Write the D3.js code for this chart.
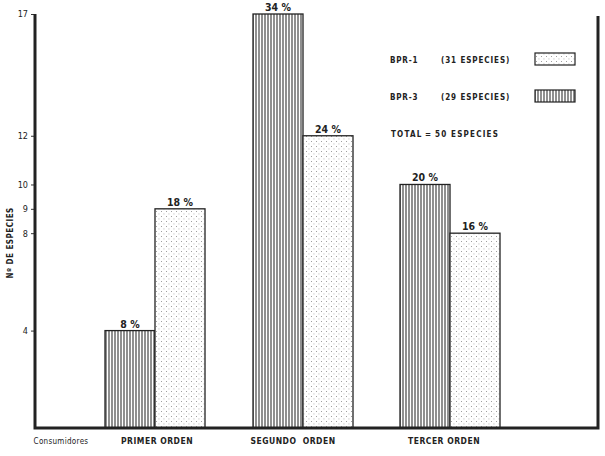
<!DOCTYPE html>
<html>
<head>
<meta charset="utf-8">
<script src="https://cdn.jsdelivr.net/npm/d3@7"></script>
<style>
  body { margin: 0; background: #fff; }
  text { font-family: "DejaVu Sans Condensed", "Liberation Sans Narrow", sans-serif; fill: #222; }
</style>
</head>
<body>
<svg id="chart" width="605" height="456"></svg>
<script>
const categories = ['PRIMER ORDEN', 'SEGUNDO ORDEN', 'TERCER ORDEN']
const series = ['BPR-3', 'BPR-1']
const bpr3Values = [4, 17, 10]
const bpr1Values = [9, 12, 8]
const bpr3Labels = ['8 %', '34 %', '20 %']
const bpr1Labels = ['18 %', '24 %', '16 %']
const yTicks = [4, 8, 9, 10, 12, 17]
const legendRows = [
  { name: 'BPR-1', note: '(31 ESPECIES)', pattern: 'dots' },
  { name: 'BPR-3', note: '(29 ESPECIES)', pattern: 'lines' }
]
const totalParts = ['TOTAL', '=', '50 ESPECIES']

const svg = d3.select('#chart')
const mLeft = 35
const mRight = 598
const mTop = 14
const mBottom = 428

// patterns
const defs = svg.append('defs')
const pl = defs.append('pattern').attr('id', 'lines')
  .attr('patternUnits', 'userSpaceOnUse').attr('width', 3).attr('height', 10)
pl.append('rect').attr('width', 3).attr('height', 10).attr('fill', '#fff')
pl.append('line').attr('x1', 1).attr('x2', 1).attr('y1', 0).attr('y2', 10)
  .attr('stroke', '#333').attr('stroke-width', 1.1)

const pd = defs.append('pattern').attr('id', 'dots')
  .attr('patternUnits', 'userSpaceOnUse').attr('width', 5).attr('height', 5)
pd.append('rect').attr('width', 5).attr('height', 5).attr('fill', '#fff')
pd.append('rect').attr('x', 1).attr('y', 1).attr('width', 0.9).attr('height', 0.9).attr('fill', '#888')
pd.append('rect').attr('x', 3.5).attr('y', 3.5).attr('width', 0.9).attr('height', 0.9).attr('fill', '#aaa')

const y = d3.scaleLinear().domain([0, 17]).range([mBottom, mTop])
const groupCenters = [155, 303, 450]
const barW = 50

// bars
const bars = []
categories.forEach((c, i) => {
  bars.push({ c, i, s: 0, v: bpr3Values[i], label: bpr3Labels[i], fill: 'url(#lines)' })
  bars.push({ c, i, s: 1, v: bpr1Values[i], label: bpr1Labels[i], fill: 'url(#dots)' })
})
const barX = d => groupCenters[d.i] + (d.s === 0 ? -barW : 0)

svg.append('g').selectAll('rect').data(bars).enter().append('rect')
  .attr('x', barX)
  .attr('y', d => y(d.v))
  .attr('width', barW)
  .attr('height', d => y(0) - y(d.v))
  .attr('fill', d => d.fill)
  .attr('stroke', '#222')
  .attr('stroke-width', 1.3)

svg.append('g').selectAll('text').data(bars).enter().append('text')
  .attr('x', d => barX(d) + barW / 2)
  .attr('y', d => y(d.v) - 3)
  .attr('text-anchor', 'middle')
  .attr('font-size', 10.5)
  .attr('font-weight', 600)
  .text(d => d.label)

// axes frame
const yAxis = d3.axisLeft(y).tickValues(yTicks).tickSize(4).tickPadding(3)
const ga = svg.append('g').attr('transform', `translate(${mLeft},0)`).call(yAxis)
ga.select('.domain').remove()
ga.selectAll('text').attr('font-size', 9).style('font-family', '"DejaVu Sans Condensed", sans-serif').attr('fill', '#222')
ga.selectAll('line').attr('stroke', '#333')

svg.append('path')
  .attr('d', `M${mLeft},${mTop}V${mBottom}H${mRight}V${mTop + 2}`)
  .attr('fill', 'none').attr('stroke', '#222').attr('stroke-width', 3)

// y label
svg.append('text')
  .attr('transform', `translate(13,${y(7.6)}) rotate(-90)`)
  .attr('text-anchor', 'middle')
  .attr('font-size', 8).attr('font-weight', 'bold').attr('letter-spacing', 0.5)
  .text('Nº DE ESPECIES')

// x labels
svg.append('text').attr('x', 61).attr('y', 444).attr('text-anchor', 'middle')
  .attr('font-size', 8).attr('letter-spacing', 0.3).text('Consumidores')
svg.append('g').selectAll('text').data(categories).enter().append('text')
  .attr('x', (d, i) => groupCenters[i] + [2, -10, -6][i])
  .attr('y', 444)
  .attr('text-anchor', 'middle')
  .attr('font-size', 8.5).attr('font-weight', 'bold').attr('letter-spacing', 0.5)
  .attr('xml:space', 'preserve')
  .text(d => d.replace(' ', d === 'SEGUNDO ORDEN' ? '  ' : ' '))

// legend
const lg = svg.append('g')
legendRows.forEach((r, i) => {
  const ly = 63 + i * 37
  lg.append('text').attr('x', 390).attr('y', ly).attr('font-size', 8).attr('font-weight', 'bold')
    .attr('letter-spacing', 0.8).text(r.name)
  lg.append('text').attr('x', 441).attr('y', ly).attr('font-size', 8).attr('font-weight', 'bold')
    .attr('letter-spacing', 0.9).text(r.note)
  lg.append('rect').attr('x', 535).attr('y', ly - 10).attr('width', 40).attr('height', 12)
    .attr('fill', `url(#${r.pattern})`).attr('stroke', '#222').attr('stroke-width', 1.2)
})
const totalX = [391, 425, 435]
lg.selectAll('text.total').data(totalParts).enter().append('text')
  .attr('class', 'total')
  .attr('x', (d, i) => totalX[i]).attr('y', 137)
  .attr('font-size', 8).attr('font-weight', 'bold').attr('letter-spacing', 1.2)
  .text(d => d)
</script>
</body>
</html>
